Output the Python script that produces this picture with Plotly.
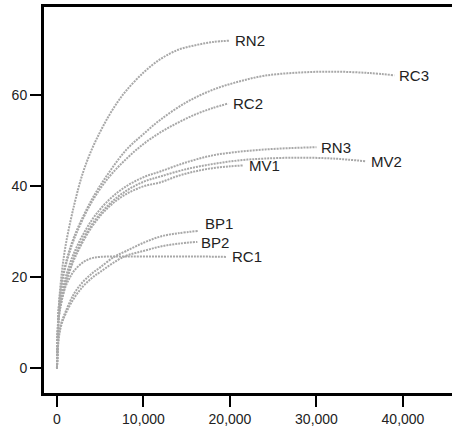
import plotly.graph_objects as go

names = ["RN2", "RC3", "RC2", "RN3", "MV2", "MV1", "BP1", "BP2", "RC1"]

rn2_x = [0, 200, 500, 1000, 2000, 3000, 4000, 5000, 6000, 7000, 8000, 10000, 12000, 14000, 16000, 18000, 20000]
rn2_y = [0, 13, 20, 27, 36, 43, 48, 52, 55.5, 58.5, 61, 65, 68, 70, 71, 71.7, 72]

rc3_x = [0, 200, 500, 1000, 2000, 4000, 6000, 8000, 10000, 12000, 15000, 18000, 21000, 24000, 28000, 32000, 36000, 39000]
rc3_y = [0, 13, 18, 23, 29, 37, 43, 48, 51.5, 54.7, 58.5, 61.2, 63, 64.3, 65, 65.2, 64.9, 64.4]

rc2_x = [0, 200, 500, 1000, 2000, 4000, 6000, 8000, 10000, 12000, 14000, 16000, 18000, 19800]
rc2_y = [0, 13, 18, 22.5, 28.5, 36.5, 42, 46, 49.3, 51.9, 54, 55.8, 57.2, 58.2]

rn3_x = [0, 200, 500, 1000, 2000, 4000, 6000, 8000, 10000, 12000, 15000, 18000, 21000, 24000, 27000, 30000]
rn3_y = [0, 12, 16, 20, 25.5, 32.5, 37, 40, 42, 43.3, 45.3, 46.8, 47.6, 48.1, 48.4, 48.6]

mv2_x = [0, 200, 500, 1000, 2000, 4000, 6000, 8000, 10000, 12000, 15000, 18000, 21000, 24000, 28000, 32000, 35750]
mv2_y = [0, 11, 15, 19, 24.5, 31.5, 36, 39, 41, 42.2, 43.8, 44.9, 45.7, 46.1, 46.3, 46.1, 45.5]

mv1_x = [0, 200, 500, 1000, 2000, 4000, 6000, 8000, 10000, 12000, 14000, 16000, 18000, 20000, 21570]
mv1_y = [0, 11, 14.5, 18.5, 24, 31, 35.5, 38.3, 40, 40.9, 42.3, 43.3, 44, 44.4, 44.6]

bp1_x = [0, 200, 500, 1000, 2000, 3000, 4000, 5000, 6600, 8000, 10000, 12000, 14000, 16380]
bp1_y = [0, 7, 10, 12.5, 16.5, 19, 20.8, 22.2, 24.5, 25.8, 27.6, 29, 29.7, 30.2]

bp2_x = [0, 200, 500, 1000, 2000, 3000, 4000, 5000, 7700, 10000, 12000, 14000, 16230]
bp2_y = [0, 6.5, 9.5, 12, 15.5, 18, 19.8, 21.2, 24.5, 25.8, 26.8, 27.4, 27.8]

rc1_x = [0, 200, 500, 1000, 1500, 2000, 3000, 4000, 5000, 8000, 12000, 16000, 19600]
rc1_y = [0, 11, 14.5, 18, 20, 21.5, 23.3, 24.2, 24.5, 24.6, 24.6, 24.6, 24.5]

series = [(rn2_x, rn2_y), (rc3_x, rc3_y), (rc2_x, rc2_y), (rn3_x, rn3_y), (mv2_x, mv2_y),
          (mv1_x, mv1_y), (bp1_x, bp1_y), (bp2_x, bp2_y), (rc1_x, rc1_y)]

x_ticks = [0, 10000, 20000, 30000, 40000]
y_ticks = [0, 20, 40, 60]

label_shift = {"BP1": (4, 7), "BP2": (2, -1)}

fig = go.Figure()
for name, (xs, ys) in zip(names, series):
    fig.add_trace(go.Scatter(
        x=xs, y=ys, mode="lines", line_shape="spline",
        line=dict(color="#a8a8a8", width=2, dash="2px,1px"),
        hoverinfo="skip", showlegend=False,
    ))
    dx, dy = label_shift.get(name, (3, 0))
    fig.add_annotation(
        x=xs[-1], y=ys[-1], text=name, showarrow=False,
        xanchor="left", yanchor="middle", xshift=dx, yshift=dy,
        font=dict(family="Liberation Sans, Arial", size=15, color="#222222"),
    )

fig.update_layout(
    width=452, height=432,
    margin=dict(l=44, r=0, t=7, b=39),
    plot_bgcolor="white", paper_bgcolor="white",
    showlegend=False,
)
fig.update_xaxes(
    range=[-1500, 45670], tickvals=x_ticks, tickformat=",",
    showgrid=False, zeroline=False,
    showline=True, linecolor="black", linewidth=3, mirror=True,
    ticks="outside", ticklen=11, tickwidth=2, tickcolor="black",
    tickfont=dict(family="Liberation Sans, Arial", size=14, color="#222222"),
)
fig.update_yaxes(
    range=[-5.4, 79.4], tickvals=y_ticks,
    showgrid=False, zeroline=False,
    showline=True, linecolor="black", linewidth=3, mirror=False,
    ticks="outside", ticklen=11, tickwidth=2, tickcolor="black",
    tickfont=dict(family="Liberation Sans, Arial", size=14, color="#222222"),
)

fig.write_html("out.html")
